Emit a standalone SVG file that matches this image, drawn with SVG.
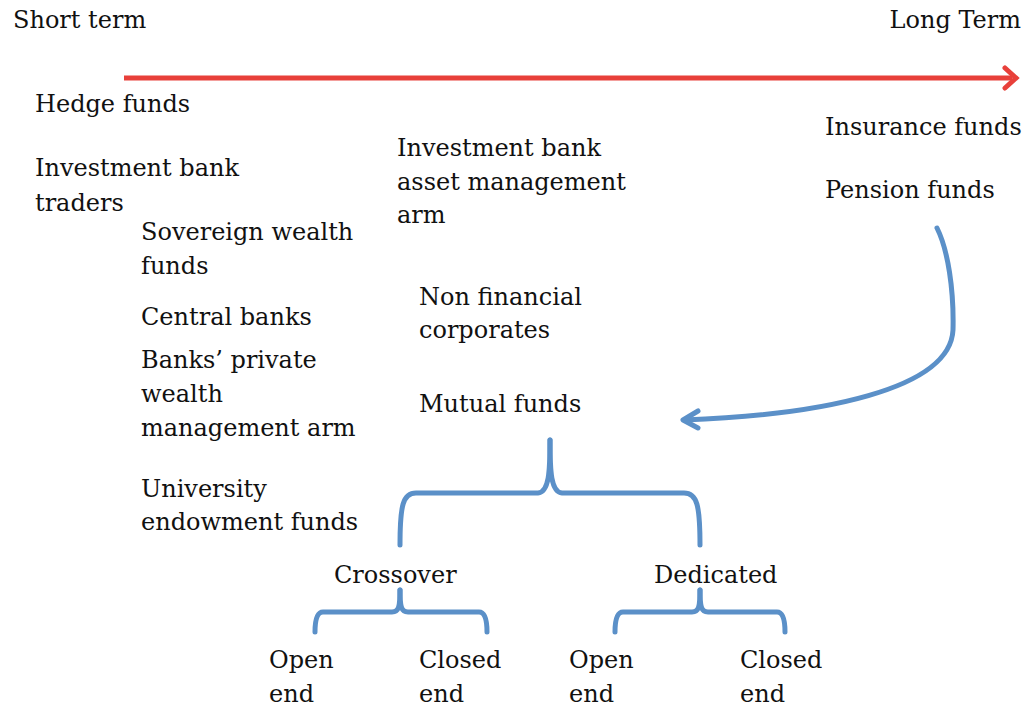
<svg xmlns="http://www.w3.org/2000/svg" width="1032" height="710" viewBox="0 0 1032 710">
<defs>
<style>
text{font-family:"DejaVu Serif","Liberation Serif",serif;font-size:24px;fill:#111;}
.blue{fill:none;stroke:#5b90c8;stroke-width:5;stroke-linecap:round;stroke-linejoin:round;}
</style>
</defs>
<rect width="1032" height="710" fill="#fff"/>
<g id="labels-axis">
<text x="13" y="28">Short term</text>
<text x="1021" y="28" text-anchor="end">Long Term</text>
</g>
<g id="connectors">
<line x1="124" y1="78" x2="1012" y2="78" stroke="#e8403a" stroke-width="5"/>
<path d="M1005,68 L1016,78 L1005,88" fill="none" stroke="#e8403a" stroke-width="5" stroke-linecap="round" stroke-linejoin="miter"/>
<path class="blue" d="M937,228 C948,250 954,290 953,330 C950,390 820,415 684,420"/>
<path class="blue" d="M698,411 L683,420 L698,428"/>
<path class="blue" d="M550,440 C550,472 549,492 538,493 L416,493 C403,493 400,505 400,545"/>
<path class="blue" d="M550,440 C550,472 551,492 562,493 L684,493 C697,493 700,505 700,545"/>
<path class="blue" d="M400,590 C400,606 399,612 392,612 L323,612 C317,612 315,620 315,632"/>
<path class="blue" d="M400,590 C400,606 401,612 408,612 L479,612 C485,612 487,620 487,632"/>
<path class="blue" d="M700,590 C700,606 699,612 692,612 L623,612 C617,612 615,620 615,632"/>
<path class="blue" d="M700,590 C700,606 701,612 708,612 L777,612 C783,612 785,620 785,632"/>
</g>
<g id="hedge"><text x="35" y="112">Hedge funds</text></g>
<g id="ibtraders"><text x="35" y="176">Investment bank</text><text x="35" y="211">traders</text></g>
<g id="swf"><text x="141" y="240">Sovereign wealth</text><text x="141" y="274">funds</text></g>
<g id="central"><text x="141" y="325">Central banks</text></g>
<g id="pwm"><text x="141" y="368">Banks’ private</text><text x="141" y="402">wealth</text><text x="141" y="436">management arm</text></g>
<g id="univ"><text x="141" y="497">University</text><text x="141" y="530">endowment funds</text></g>
<g id="ibam"><text x="397" y="156">Investment bank</text><text x="397" y="190">asset management</text><text x="397" y="223">arm</text></g>
<g id="nfc"><text x="419" y="305">Non financial</text><text x="419" y="338">corporates</text></g>
<g id="mutual"><text x="419" y="412">Mutual funds</text></g>
<g id="insurance"><text x="825" y="135">Insurance funds</text></g>
<g id="pension"><text x="825" y="198">Pension funds</text></g>
<g id="crossover"><text x="334" y="583">Crossover</text></g>
<g id="dedicated"><text x="654" y="583">Dedicated</text></g>
<g id="co-open"><text x="269" y="668">Open</text><text x="269" y="702">end</text></g>
<g id="co-closed"><text x="419" y="668">Closed</text><text x="419" y="702">end</text></g>
<g id="de-open"><text x="569" y="668">Open</text><text x="569" y="702">end</text></g>
<g id="de-closed"><text x="740" y="668">Closed</text><text x="740" y="702">end</text></g>
</svg>
